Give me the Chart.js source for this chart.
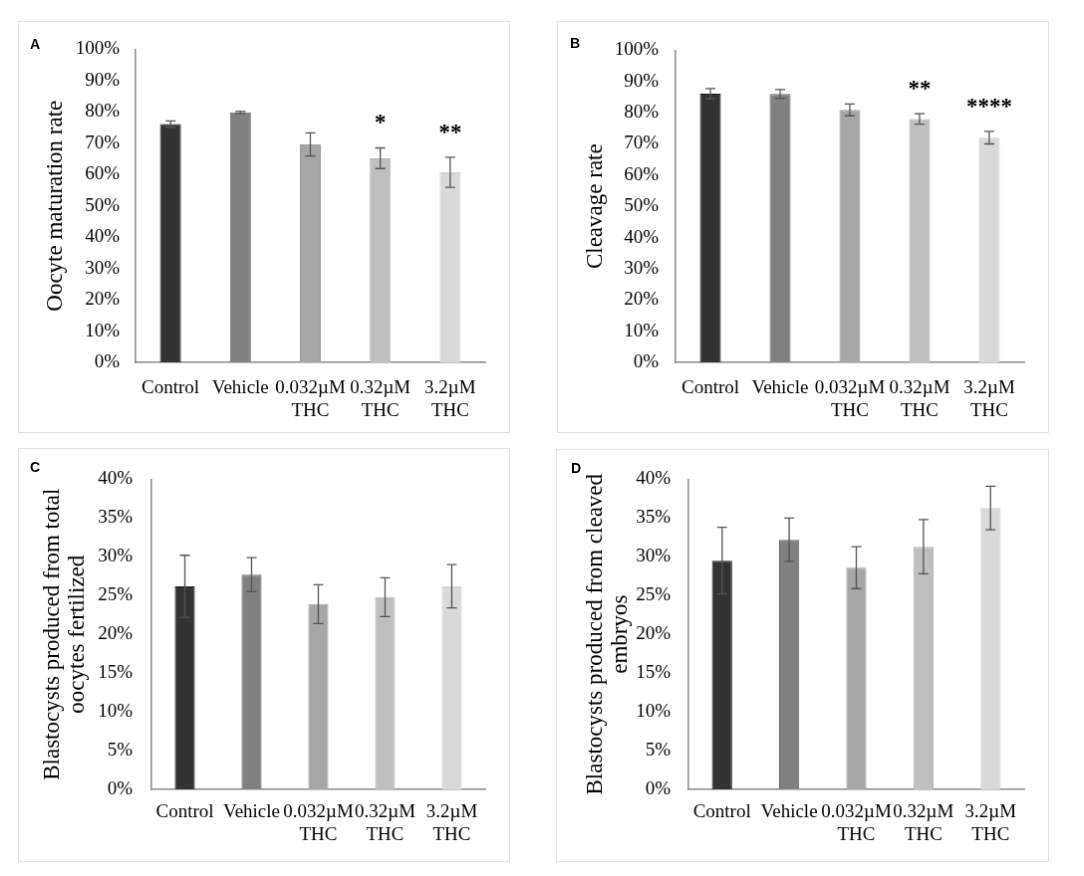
<!DOCTYPE html>
<html>
<head>
<meta charset="utf-8">
<script src="https://cdn.jsdelivr.net/npm/chart.js@4.4.1/dist/chart.umd.min.js"></script>
<style>
  body { margin: 0; background: #fff; width: 1084px; height: 876px; position: relative; overflow: hidden; }
  canvas { position: absolute; border: 1px solid #e2e2e2; }
  .tag { position: absolute; font: bold 14px "Liberation Sans", Arial, sans-serif; color: #000; }
</style>
</head>
<body>
<canvas id="chartA" width="492" height="412" style="left:18px;top:21px"></canvas>
<canvas id="chartB" width="492" height="412" style="left:557px;top:21px"></canvas>
<canvas id="chartC" width="492" height="414" style="left:18px;top:448px"></canvas>
<canvas id="chartD" width="493" height="413" style="left:556px;top:449px"></canvas>
<div class="tag" style="left:30px;top:36px">A</div>
<div class="tag" style="left:570px;top:35px">B</div>
<div class="tag" style="left:30px;top:459px">C</div>
<div class="tag" style="left:571px;top:460px">D</div>
<script>
const categories = ['Control', 'Vehicle', ['0.032µM', 'THC'], ['0.32µM', 'THC'], ['3.2µM', 'THC']];
const barColors = ['#333333', '#808080', '#a6a6a6', '#bfbfbf', '#d9d9d9'];
const barEdges = ['#1a1a1a', '#666666', '#9a9a9a', '#b5b5b5', '#d0d0d0'];

// A: oocyte maturation rate (%)
const maturation = [76.1, 79.9, 69.6, 65.2, 60.7];
const maturationErr = [1.0, 0.3, 3.7, 3.3, 4.8];
const maturationStars = ['', '', '', '*', '**'];

// B: cleavage rate (%)
const cleavage = [86.1, 86.0, 80.9, 78.0, 72.0];
const cleavageErr = [1.6, 1.4, 1.9, 1.7, 2.0];
const cleavageStars = ['', '', '', '**', '****'];

// C: blastocysts / total oocytes fertilized (%)
const blastTotal = [26.2, 27.7, 23.9, 24.8, 26.2];
const blastTotalErr = [4.0, 2.2, 2.5, 2.5, 2.8];

// D: blastocysts / cleaved embryos (%)
const blastCleaved = [29.5, 32.2, 28.6, 31.3, 36.3];
const blastCleavedErr = [4.3, 2.8, 2.7, 3.5, 2.8];

const serif = '"Liberation Serif", "Times New Roman", serif';

// error bars + significance stars
const errorBars = {
  id: 'errorBars',
  afterDatasetsDraw(chart, args, opts) {
    const ctx = chart.ctx;
    const y = chart.scales.y;
    const vals = chart.data.datasets[0].data;
    ctx.save();
    chart.getDatasetMeta(0).data.forEach((bar, i) => {
      const e = opts.errors[i];
      const top = y.getPixelForValue(vals[i] + e);
      const bot = y.getPixelForValue(vals[i] - e);
      ctx.strokeStyle = '#555';
      ctx.lineWidth = 1.3;
      ctx.beginPath();
      ctx.moveTo(bar.x, top); ctx.lineTo(bar.x, bot);
      ctx.moveTo(bar.x - 5, top); ctx.lineTo(bar.x + 5, top);
      ctx.moveTo(bar.x - 5, bot); ctx.lineTo(bar.x + 5, bot);
      ctx.stroke();
      const s = (opts.stars || [])[i];
      if (s) {
        ctx.fillStyle = '#000';
        ctx.font = 'bold 23px ' + serif;
        ctx.textAlign = 'center';
        ctx.textBaseline = 'alphabetic';
        ctx.fillText(s, bar.x, top - 18);
      }
    });
    ctx.restore();
  }
};

function makeChart(id, values, errors, stars, title, maxY, step, box) {
  new Chart(document.getElementById(id), {
    type: 'bar',
    data: {
      labels: categories,
      datasets: [{
        data: values,
        backgroundColor: barColors,
        borderColor: barEdges,
        borderWidth: 1,
        barPercentage: 0.6,
        categoryPercentage: 0.5
      }]
    },
    options: {
      responsive: false,
      animation: false,
      layout: { padding: { top: box.top, right: box.right, left: 0, bottom: 0 } },
      plugins: {
        legend: { display: false },
        tooltip: { enabled: false },
        errorBars: { errors: errors, stars: stars }
      },
      scales: {
        x: {
          grid: { display: false, drawTicks: false },
          border: { display: true, color: '#8a8a8a', width: 1.5 },
          ticks: {
            color: '#000', font: { family: serif, size: 19 }, padding: box.xPad,
            autoSkip: false, maxRotation: 0, minRotation: 0
          },
          afterFit(scale) { scale.height = box.xHeight; }
        },
        y: {
          min: 0, max: maxY,
          grid: { display: false, drawTicks: false },
          border: { display: true, color: '#8a8a8a', width: 1.5 },
          ticks: {
            stepSize: step, color: '#000', font: { family: serif, size: 19 }, padding: box.yPad,
            callback: v => v + '%'
          },
          title: {
            display: true, text: title, color: '#000',
            font: { family: serif, size: 23, lineHeight: 1.1 },
            padding: { top: box.titlePad, bottom: 0 }
          },
          afterFit(scale) { scale.width = box.yWidth; }
        }
      }
    },
    plugins: [errorBars]
  });
}

makeChart('chartA', maturation, maturationErr, maturationStars, 'Oocyte maturation rate', 100, 10,
  { top: 24, right: 24, xHeight: 70, yWidth: 117, xPad: 15, yPad: 16, titlePad: 24 });
makeChart('chartB', cleavage, cleavageErr, cleavageStars, 'Cleavage rate', 100, 10,
  { top: 25, right: 24, xHeight: 70, yWidth: 118, xPad: 15, yPad: 17, titlePad: 25 });
makeChart('chartC', blastTotal, blastTotalErr, null, ['Blastocysts produced from total', 'oocytes fertilized'], 40, 5,
  { top: 24, right: 24, xHeight: 72, yWidth: 133, xPad: 12, yPad: 19, titlePad: 21 });
makeChart('chartD', blastCleaved, blastCleavedErr, null, ['Blastocysts produced from cleaved', 'embryos'], 40, 5,
  { top: 23, right: 24, xHeight: 72, yWidth: 132, xPad: 12, yPad: 18, titlePad: 26 });
</script>
</body>
</html>
